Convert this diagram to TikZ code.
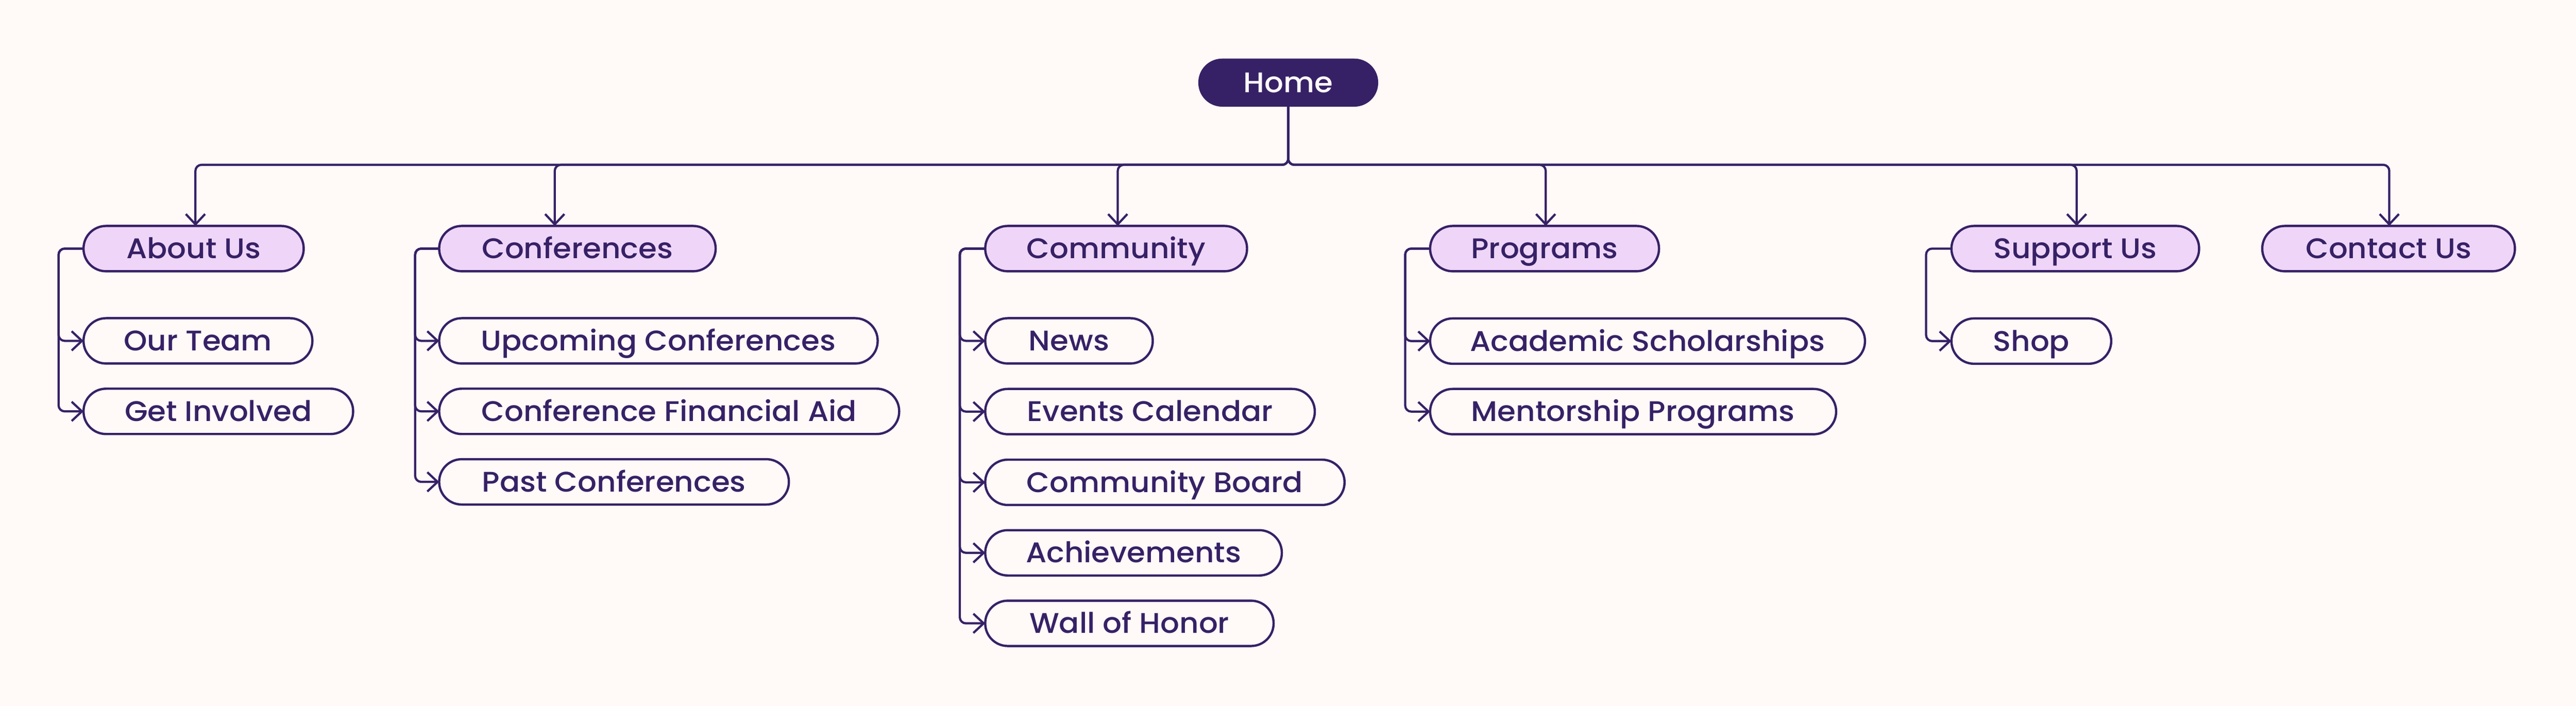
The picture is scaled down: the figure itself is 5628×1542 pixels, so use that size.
\documentclass[tikz,border=0pt]{standalone}
\usepackage{fontspec}
\setmainfont{Poppins}[UprightFont=* Medium, FakeStretch=1.05]
\usetikzlibrary{arrows.meta}
\definecolor{ink}{RGB}{54,33,102}
\definecolor{lilac}{RGB}{239,213,247}
\definecolor{paper}{RGB}{255,249,248}
\tikzset{
  pill/.style={draw=ink, line width=1.25pt, rounded corners=12.3pt, anchor=west,
    minimum height=24.75pt, inner sep=0pt, outer sep=0pt, text=ink,
    text height=10.8pt, text depth=0pt, font=\fontsize{15.5}{18}\selectfont},
  top/.style={pill, fill=lilac},
  sub/.style={pill, fill=paper},
  homebox/.style={fill=ink, draw=none, rounded corners=13pt, minimum height=26.25pt,
    minimum width=98.25pt, inner sep=0pt, outer sep=0pt, text=paper,
    text height=10.8pt, text depth=0pt, font=\fontsize{15.5}{18}\selectfont},
  conn/.style={draw=ink, line width=1.2pt, rounded corners=3.3pt,
    -{Straight Barb[length=5.6pt,width=10.5pt]}},
}
\begin{document}
\begin{tikzpicture}[x=0.25pt,y=-0.25pt]
\fill[paper] (0,0) rectangle (5628,1542);
\useasboundingbox (0,0) rectangle (5628,1542);

\node[homebox] (home) at (2814.5,180.5) {Home};

% level 1
\node[top, minimum width=121.5pt-1.25pt] (about) at (182.5,543) {About Us};
\node[top, minimum width=152.25pt-1.25pt] (conf) at (959.5,543) {Conferences};
\node[top, minimum width=144.25pt-1.25pt] (comm) at (2152.5,543) {Community};
\node[top, minimum width=126.25pt-1.25pt] (prog) at (3124.5,543) {Programs};
\node[top, minimum width=136.5pt-1.25pt] (supp) at (4263.5,543) {Support Us};
\node[top, minimum width=139.25pt-1.25pt] (cont) at (4942.5,543) {Contact Us};

% about
\node[sub, minimum width=126.25pt-1.25pt] (team) at (182.5,744.5) {Our Team};
\node[sub, minimum width=148.5pt-1.25pt] (invol) at (182.5,898.5) {Get Involved};
% conferences
\node[sub, minimum width=240.75pt-1.25pt] (upc) at (959.5,744.5) {Upcoming Conferences};
\node[sub, minimum width=252.5pt-1.25pt] (aid) at (959.5,898.5) {Conference Financial Aid};
\node[sub, minimum width=192.25pt-1.25pt] (past) at (959.5,1052.5) {Past Conferences};
% community
\node[sub, minimum width=92.75pt-1.25pt] (news) at (2152.5,744.5) {News};
\node[sub, minimum width=181.25pt-1.25pt] (events) at (2152.5,899) {Events Calendar};
\node[sub, minimum width=197.5pt-1.25pt] (board) at (2152.5,1053.5) {Community Board};
\node[sub, minimum width=163.25pt-1.25pt] (ach) at (2152.5,1207.5) {Achievements};
\node[sub, minimum width=158.75pt-1.25pt] (wall) at (2152.5,1361.5) {Wall of Honor};
% programs
\node[sub, minimum width=238.75pt-1.25pt] (acad) at (3124.5,745) {Academic Scholarships};
\node[sub, minimum width=223pt-1.25pt] (ment) at (3124.5,899) {Mentorship Programs};
% support
\node[sub, minimum width=88.5pt-1.25pt] (shop) at (4263.5,745) {Shop};

% home to level 1
\draw[conn] (home.south) |- (427,360) -- (about.north -| 427,0);
\draw[conn] (home.south) |- (1212,360) -- (conf.north -| 1212,0);
\draw[conn] (home.south) |- (2442,360) -- (comm.north -| 2442,0);
\draw[conn] (home.south) |- (3377,360) -- (prog.north -| 3377,0);
\draw[conn] (home.south) |- (4537,360) -- (supp.north -| 4537,0);
\draw[conn] (home.south) |- (5220,360) -- (cont.north -| 5220,0);

% level 1 to children
\foreach \c in {team, invol}
  \draw[conn] (about.west) -- ++(-54.5,0) |- (\c.west);
\foreach \c in {upc, aid, past}
  \draw[conn] (conf.west) -- ++(-52.5,0) |- (\c.west);
\foreach \c in {news, events, board, ach, wall}
  \draw[conn] (comm.west) -- ++(-55.5,0) |- (\c.west);
\foreach \c in {acad, ment}
  \draw[conn] (prog.west) -- ++(-54.5,0) |- (\c.west);
\foreach \c in {shop}
  \draw[conn] (supp.west) -- ++(-55.5,0) |- (\c.west);
\end{tikzpicture}
\end{document}
